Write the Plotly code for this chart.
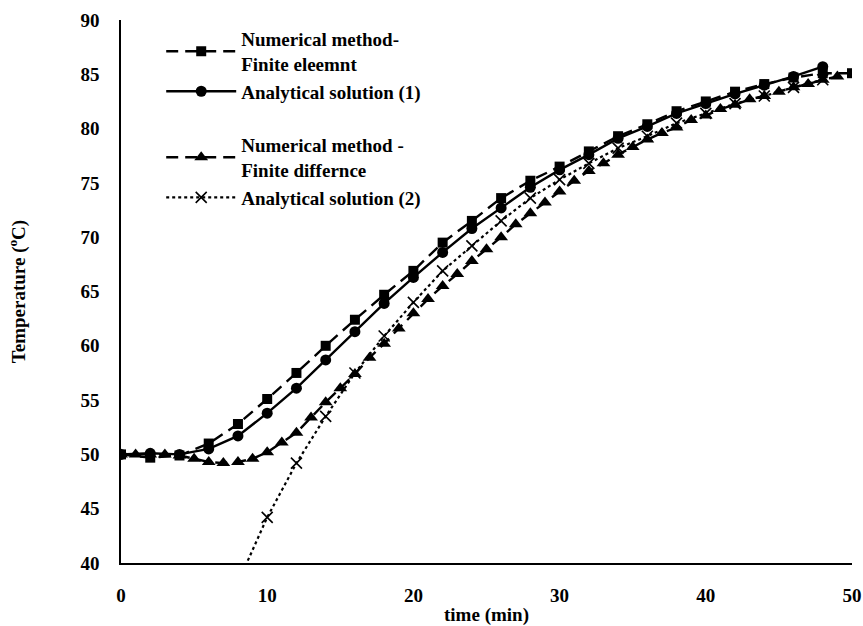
import plotly.graph_objects as go

# ---- data ----
t_fe = list(range(0, 51, 2))
temp_fe = [50.0, 49.7, 49.9, 51.0, 52.8, 55.1, 57.5, 60.0, 62.4, 64.7, 66.9, 69.5, 71.5,
           73.6, 75.2, 76.5, 77.9, 79.3, 80.4, 81.6, 82.5, 83.4, 84.1, 84.7, 85.1, 85.1]

t_an1 = list(range(0, 49, 2))
temp_an1 = [50.0, 50.1, 50.0, 50.5, 51.7, 53.8, 56.1, 58.7, 61.3, 63.9, 66.3, 68.6, 70.8,
            72.7, 74.6, 76.2, 77.6, 79.1, 80.2, 81.4, 82.3, 83.2, 84.0, 84.8, 85.7]

t_fd = list(range(0, 50))
temp_fd = [50.0, 50.0, 50.0, 50.0, 49.9, 49.6, 49.3, 49.2, 49.3, 49.6,
           50.2, 51.1, 52.0, 53.4, 54.8, 56.1, 57.4, 58.9, 60.2, 61.6,
           63.0, 64.3, 65.5, 66.6, 67.8, 68.9, 70.0, 71.2, 72.2, 73.2,
           74.2, 75.2, 76.1, 76.8, 77.6, 78.3, 79.0, 79.6, 80.1, 80.8,
           81.2, 81.8, 82.2, 82.7, 83.0, 83.4, 83.8, 84.1, 84.5, 84.8]

t_an2 = list(range(8, 49, 2))
temp_an2 = [38.2, 44.2, 49.2, 53.5, 57.5, 60.9, 64.0, 66.9, 69.2, 71.5, 73.6,
            75.3, 76.8, 78.2, 79.3, 80.5, 81.4, 82.3, 83.0, 83.8, 84.5]

x_ticks = [0, 10, 20, 30, 40, 50]
y_ticks = [40, 45, 50, 55, 60, 65, 70, 75, 80, 85, 90]

FONT = "Liberation Serif"
FS = 19

fig = go.Figure()
fig.add_trace(go.Scatter(
    x=t_fe, y=temp_fe, mode="lines+markers",
    name="<b>Numerical method-<br>Finite eleemnt</b>",
    line=dict(color="black", width=2.4, dash="12px,7px"),
    marker=dict(symbol="square", size=10, color="black"),
    legendgroup="g1"))
fig.add_trace(go.Scatter(
    x=t_an1, y=temp_an1, mode="lines+markers",
    name="<b>Analytical solution (1)</b>",
    line=dict(color="black", width=2.4),
    marker=dict(symbol="circle", size=11, color="black"),
    legendgroup="g1"))
fig.add_trace(go.Scatter(
    x=t_fd, y=temp_fd, mode="lines+markers",
    name="<b>Numerical method -<br>Finite differnce</b>",
    line=dict(color="black", width=2.4, dash="12px,7px"),
    marker=dict(symbol="triangle-up", size=12, color="black"),
    legendgroup="g2"))
fig.add_trace(go.Scatter(
    x=t_an2, y=temp_an2, mode="lines+markers",
    name="<b>Analytical solution (2)</b>",
    line=dict(color="black", width=2.2, dash="dot"),
    marker=dict(symbol="x-thin", size=11, color="black",
                line=dict(color="black", width=1.6)),
    legendgroup="g2"))

fig.update_layout(
    width=863, height=626,
    margin=dict(l=121, r=11, t=20, b=63),
    paper_bgcolor="white", plot_bgcolor="white",
    font=dict(family=FONT, size=FS, color="black"),
    showlegend=True,
    legend=dict(x=0.055, y=1.0, xanchor="left", yanchor="top",
                bgcolor="rgba(0,0,0,0)", tracegroupgap=26,
                font=dict(family=FONT, size=FS, color="black"),
                itemwidth=70),
    xaxis=dict(range=[0, 50], tickvals=x_ticks,
               ticktext=[f"<b>{v}</b>" for v in x_ticks],
               showgrid=False, zeroline=False, showline=True,
               linecolor="black", linewidth=1.5, ticks="",
               ticklabelstandoff=14, automargin=False,
               tickfont=dict(family=FONT, size=FS, color="black"),
               title=dict(text="<b>time (min)</b>", standoff=12,
                          font=dict(family=FONT, size=FS, color="black"))),
    yaxis=dict(range=[40, 90], tickvals=y_ticks,
               ticktext=[f"<b>{v}</b>" for v in y_ticks],
               showgrid=False, zeroline=False, showline=True,
               linecolor="black", linewidth=1.5, ticks="",
               ticklabelstandoff=16, automargin=False,
               tickfont=dict(family=FONT, size=FS, color="black"),
               title=dict(text="<b>Temperature (<sup>o</sup>C)</b>", standoff=50,
                          font=dict(family=FONT, size=FS, color="black"))),
)

# remove the default 8px page margin so the figure fills the 863x626 window exactly
fig.write_html("out.html",
               config={"displayModeBar": False},
               post_script="document.body.style.margin='0px';document.body.style.overflow='hidden';")
